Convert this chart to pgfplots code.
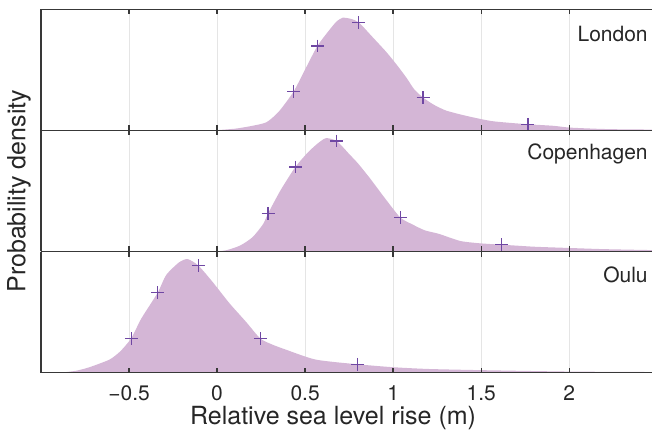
\documentclass[border=0pt]{standalone}
\usepackage{fontspec}
\setmainfont{TeX Gyre Heros}
\usepackage{pgfplots}
\pgfplotsset{compat=1.18}
\usepackage{xcolor}
\definecolor{fillLilac}{HTML}{D4B6D6}
\definecolor{markPurple}{HTML}{6F47A3}
\definecolor{axGray}{HTML}{383838}
\definecolor{txtGray}{HTML}{262626}

\tikzset{
  city/.style={font=\fontsize{10.5}{12}\selectfont, text=txtGray,
    anchor=east, inner sep=0pt},
}
\pgfplotsset{
  layers/gridunder/.define layer set={
    axis background,axis grid,main,axis ticks,axis lines,
    axis tick labels,axis descriptions,axis foreground
  }{/pgfplots/layers/standard},
  panel/.style={
    set layers=gridunder,
    scale only axis,
    width=305.5pt, height=60.5pt,
    xmin=-1, xmax=2.47, ymin=0, ymax=1.03,
    axis x line*=box, axis y line*=left,
    axis line style={axGray, line width=0.7pt},
    xtick={-0.5,0,0.5,1,1.5,2},
    ytick=\empty,
    tick align=inside,
    major tick length=2.5pt,
    tick style={axGray, line width=0.7pt},
    xmajorgrids,
    grid style={line width=0.3pt, draw=black!10},
    xticklabels={},
    clip=true,
  },
  dens/.style={fill=fillLilac, draw=none, smooth, tension=0.4},
  quant/.style={only marks, mark=+, mark size=3.2pt,
    mark options={markPurple, line width=0.65pt}},
}

\begin{document}
\begin{tikzpicture}

% Oulu (bottom)
\begin{axis}[panel, at={(0,0)}, anchor=south west,
  xticklabels={−0.5,0,0.5,1,1.5,2},
  xticklabel style={font=\fontsize{10.5}{12}\selectfont, text=txtGray, yshift=-3pt},
  xlabel={Relative sea level rise (m)},
  xlabel style={font=\fontsize{12.5}{14}\selectfont, text=txtGray,
    at={(axis description cs:0.478,0)}, anchor=center, yshift=-23pt},
]
\addplot[dens] table {
-0.88 0
-0.80 0.015
-0.725 0.045
-0.611 0.11
-0.55 0.18
-0.488 0.29
-0.43 0.46
-0.337 0.68
-0.289 0.83
-0.214 0.94
-0.166 0.965
-0.106 0.91
-0.025 0.77
0.07 0.59
0.165 0.43
0.245 0.29
0.31 0.24
0.39 0.195
0.56 0.11
0.796 0.07
1.0 0.045
1.2 0.03
1.5 0.02
2.0 0.008
2.47 0.004
} \closedcycle;
\addplot[quant] table {
-0.488 0.29
-0.337 0.68
-0.106 0.91
0.245 0.29
0.796 0.07
};
\node[city] at (rel axis cs:0.9935,0.81) {Oulu};
\end{axis}

% Copenhagen (middle)
\begin{axis}[panel, at={(0,60.5pt)}, anchor=south west]
\addplot[dens] table {
-0.02 0
0.05 0.01
0.13 0.05
0.2 0.12
0.26 0.23
0.29 0.325
0.36 0.52
0.445 0.72
0.52 0.85
0.58 0.93
0.62 0.965
0.68 0.94
0.75 0.83
0.8 0.75
0.87 0.62
0.95 0.46
1.04 0.29
1.11 0.23
1.18 0.18
1.26 0.15
1.38 0.09
1.49 0.07
1.615 0.058
1.7 0.05
1.81 0.04
2.0 0.03
2.2 0.02
2.47 0.012
} \closedcycle;
\addplot[quant] table {
0.29 0.325
0.445 0.72
0.68 0.94
1.04 0.29
1.615 0.058
};
\node[city] at (rel axis cs:0.9935,0.81) {Copenhagen};
\end{axis}

% London (top)
\begin{axis}[panel, at={(0,121pt)}, anchor=south west]
\addplot[dens] table {
-0.05 0
0.0 0.003
0.1 0.015
0.145 0.025
0.2 0.04
0.28 0.07
0.35 0.16
0.434 0.33
0.5 0.52
0.57 0.72
0.64 0.86
0.68 0.93
0.714 0.96
0.76 0.95
0.805 0.92
0.88 0.80
0.96 0.67
1.02 0.56
1.075 0.45
1.12 0.35
1.17 0.28
1.23 0.22
1.30 0.17
1.40 0.13
1.49 0.10
1.56 0.08
1.64 0.068
1.765 0.053
1.91 0.04
2.0 0.025
2.17 0.014
2.3 0.01
2.47 0.008
} \closedcycle;
\addplot[quant] table {
0.434 0.33
0.57 0.72
0.805 0.92
1.17 0.28
1.765 0.053
};
\node[city] at (rel axis cs:0.9935,0.80) {London};
\end{axis}

% shared y label
\node[rotate=90, font=\fontsize{12.5}{14}\selectfont, text=txtGray]
  at (-11pt,90.6pt) {Probability density};

\pgfresetboundingbox
\useasboundingbox (-20.5pt,-30.5pt) rectangle (305.5pt,186.25pt);
\end{tikzpicture}
\end{document}
